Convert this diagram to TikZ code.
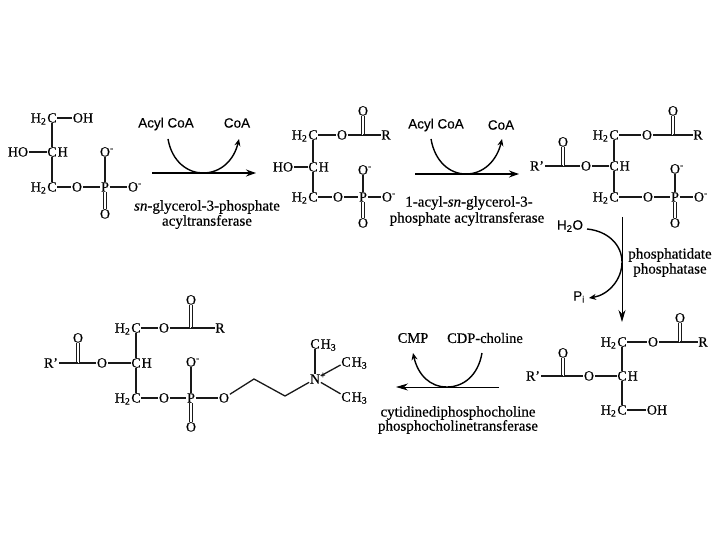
\documentclass[tikz,border=0pt]{standalone}
\usepackage{fontspec}
\setmainfont[FakeBold=0.45,BoldFont={Liberation Serif},BoldFeatures={FakeBold=0.45}]{Liberation Serif}
\newfontfamily\lblsans[FakeBold=0.3]{Liberation Sans}
\usetikzlibrary{arrows.meta}
\tikzset{
  atom/.style={inner sep=0.6pt,font=\fontsize{14}{14}\selectfont,text height=9pt,text depth=0pt},
  bond/.style={line width=1.3pt,black!90},
  dbl/.style={line width=1.1pt,double,double distance=2.2pt,black!90},
  rxn/.style={line width=1.3pt,-{Stealth[length=10pt,width=7pt]}},
  rxnthin/.style={line width=0.9pt,-{Stealth[length=12pt,width=7pt]}},
  cofline/.style={line width=1.4pt},
  cof/.style={line width=1.4pt,-{Stealth[length=7pt,width=6pt]}},
  enz/.style={font=\fontsize{15}{15}\selectfont,inner sep=0pt},
  sans/.style={font=\lblsans\fontsize{13.5}{13.5}\selectfont,inner sep=0pt},
  ser/.style={font=\fontsize{14.5}{14.5}\selectfont,inner sep=0pt},
}
\newcommand{\mO}{O\rlap{\textsuperscript{-}}}
\begin{document}
\begin{tikzpicture}[x=1pt,y=-1pt]
\useasboundingbox (0,0) rectangle (720,540);
% ---- structure 1
\begin{scope}[name prefix=a-]
\node[atom] (c1) at (52,118) {C};
\node[atom,anchor=east,inner xsep=0pt] (h1) at (c1.west) {H\textsubscript{2}};
\node[atom] (oh) at (83,118) {OH};
\node[atom] (c2) at (52,152) {C};
\node[atom,anchor=west,inner xsep=0pt] (h2) at (c2.east) {H};
\node[atom] (ho) at (18,152) {HO};
\node[atom] (c3) at (52,187) {C};
\node[atom,anchor=east,inner xsep=0pt] (h3) at (c3.west) {H\textsubscript{2}};
\node[atom] (o1) at (77,187) {O};
\node[atom] (p) at (105,187) {P};
\node[atom] (o2) at (133,187) {\mO};
\node[atom] (o3) at (105,152) {\mO};
\node[atom] (o4) at (105,214) {O};
\draw[bond] (c1) -- (oh);
\draw[bond] (c1) -- (c2);
\draw[bond] (ho) -- (c2);
\draw[bond] (c2) -- (c3);
\draw[bond] (c3) -- (o1);
\draw[bond] (o1) -- (p);
\draw[bond] (p) -- (o2);
\draw[bond] (p) -- (o3);
\draw[dbl] (p) -- (o4);
\end{scope}
% ---- structure 2
\begin{scope}[name prefix=b-]
\node[atom] (c1) at (313,135) {C};
\node[atom,anchor=east,inner xsep=0pt] (h1) at (c1.west) {H\textsubscript{2}};
\node[atom] (o5) at (342,135) {O};
\coordinate (j) at (363,135);
\node[atom] (oc) at (363,111) {O};
\node[atom] (r) at (386,135) {R};
\node[atom] (c2) at (313,167) {C};
\node[atom,anchor=west,inner xsep=0pt] (h2) at (c2.east) {H};
\node[atom] (ho) at (283,167) {HO};
\node[atom] (c3) at (313,197) {C};
\node[atom,anchor=east,inner xsep=0pt] (h3) at (c3.west) {H\textsubscript{2}};
\node[atom] (o1) at (338,197) {O};
\node[atom] (p) at (363,197) {P};
\node[atom] (o2) at (387,197) {\mO};
\node[atom] (o3) at (363,170) {\mO};
\node[atom] (o4) at (363,223) {O};
\draw[bond] (c1) -- (o5);
\draw[bond] (o5) -- (j);
\draw[dbl] (j) -- (oc);
\draw[bond] (j) -- (r);
\draw[bond] (c1) -- (c2);
\draw[bond] (ho) -- (c2);
\draw[bond] (c2) -- (c3);
\draw[bond] (c3) -- (o1);
\draw[bond] (o1) -- (p);
\draw[bond] (p) -- (o2);
\draw[bond] (p) -- (o3);
\draw[dbl] (p) -- (o4);
\end{scope}
% ---- structure 3
\begin{scope}[name prefix=c-]
\node[atom] (c1) at (614,135) {C};
\node[atom,anchor=east,inner xsep=0pt] (h1) at (c1.west) {H\textsubscript{2}};
\node[atom] (o5) at (647,135) {O};
\coordinate (j) at (673,135);
\node[atom] (oc) at (673,111) {O};
\node[atom] (r) at (698,135) {R};
\node[atom] (c2) at (614,166) {C};
\node[atom,anchor=west,inner xsep=0pt] (h2) at (c2.east) {H};
\node[atom] (o6) at (586,166) {O};
\coordinate (k) at (563,166);
\node[atom] (oc2) at (563,142) {O};
\node[atom] (rp) at (537,166) {R'};
\node[atom] (c3) at (614,197) {C};
\node[atom,anchor=east,inner xsep=0pt] (h3) at (c3.west) {H\textsubscript{2}};
\node[atom] (o1) at (648,197) {O};
\node[atom] (p) at (675,197) {P};
\node[atom] (o2) at (699,197) {\mO};
\node[atom] (o3) at (675,169) {\mO};
\node[atom] (o4) at (675,223) {O};
\draw[bond] (c1) -- (o5);
\draw[bond] (o5) -- (j);
\draw[dbl] (j) -- (oc);
\draw[bond] (j) -- (r);
\draw[bond] (c1) -- (c2);
\draw[bond] (c2) -- (o6);
\draw[bond] (o6) -- (k);
\draw[dbl] (k) -- (oc2);
\draw[bond] (k) -- (rp);
\draw[bond] (c2) -- (c3);
\draw[bond] (c3) -- (o1);
\draw[bond] (o1) -- (p);
\draw[bond] (p) -- (o2);
\draw[bond] (p) -- (o3);
\draw[dbl] (p) -- (o4);
\end{scope}
% ---- structure 4
\begin{scope}[name prefix=d-]
\node[atom] (c1) at (622,342) {C};
\node[atom,anchor=east,inner xsep=0pt] (h1) at (c1.west) {H\textsubscript{2}};
\node[atom] (o5) at (653,342) {O};
\coordinate (j) at (680,342);
\node[atom] (oc) at (680,318) {O};
\node[atom] (r) at (703,342) {R};
\node[atom] (c2) at (622,376) {C};
\node[atom,anchor=west,inner xsep=0pt] (h2) at (c2.east) {H};
\node[atom] (o6) at (589,376) {O};
\coordinate (k) at (563,376);
\node[atom] (oc2) at (563,353) {O};
\node[atom] (rp) at (533,376) {R'};
\node[atom] (c3) at (622,410) {C};
\node[atom,anchor=east,inner xsep=0pt] (h3) at (c3.west) {H\textsubscript{2}};
\node[atom] (oh) at (657,410) {OH};
\draw[bond] (c1) -- (o5);
\draw[bond] (o5) -- (j);
\draw[dbl] (j) -- (oc);
\draw[bond] (j) -- (r);
\draw[bond] (c1) -- (c2);
\draw[bond] (c2) -- (o6);
\draw[bond] (o6) -- (k);
\draw[dbl] (k) -- (oc2);
\draw[bond] (k) -- (rp);
\draw[bond] (c2) -- (c3);
\draw[bond] (c3) -- (oh);
\end{scope}
% ---- structure 5
\begin{scope}[name prefix=e-]
\node[atom] (c1) at (136,328) {C};
\node[atom,anchor=east,inner xsep=0pt] (h1) at (c1.west) {H\textsubscript{2}};
\node[atom] (o5) at (164,328) {O};
\coordinate (j) at (191,328);
\node[atom] (oc) at (191,300) {O};
\node[atom] (r) at (220,328) {R};
\node[atom] (c2) at (136,363) {C};
\node[atom,anchor=west,inner xsep=0pt] (h2) at (c2.east) {H};
\node[atom] (o6) at (102,363) {O};
\coordinate (k) at (78,363);
\node[atom] (oc2) at (78,338) {O};
\node[atom] (rp) at (51,363) {R'};
\node[atom] (c3) at (136,398) {C};
\node[atom,anchor=east,inner xsep=0pt] (h3) at (c3.west) {H\textsubscript{2}};
\node[atom] (o1) at (164,398) {O};
\node[atom] (p) at (191,398) {P};
\node[atom] (o2) at (224,398) {O};
\node[atom] (o3) at (191,362) {\mO};
\node[atom] (o4) at (191,427) {O};
\coordinate (ch1) at (254,379);
\coordinate (ch2) at (285,396);
\node[atom] (n) at (315,379) {N\rlap{\textsuperscript{+}}};
\node[atom] (m1) at (315,344) {C};
\node[atom,anchor=west,inner xsep=0pt] (m1h) at (m1.east) {H\textsubscript{3}};
\node[atom] (m2) at (346,362) {C};
\node[atom,anchor=west,inner xsep=0pt] (m2h) at (m2.east) {H\textsubscript{3}};
\node[atom] (m3) at (346,397) {C};
\node[atom,anchor=west,inner xsep=0pt] (m3h) at (m3.east) {H\textsubscript{3}};
\draw[bond] (c1) -- (o5);
\draw[bond] (o5) -- (j);
\draw[dbl] (j) -- (oc);
\draw[bond] (j) -- (r);
\draw[bond] (c1) -- (c2);
\draw[bond] (c2) -- (o6);
\draw[bond] (o6) -- (k);
\draw[dbl] (k) -- (oc2);
\draw[bond] (k) -- (rp);
\draw[bond] (c2) -- (c3);
\draw[bond] (c3) -- (o1);
\draw[bond] (o1) -- (p);
\draw[bond] (p) -- (o2);
\draw[bond] (p) -- (o3);
\draw[dbl] (p) -- (o4);
\draw[bond] (o2) -- (ch1) -- (ch2) -- (n);
\draw[bond] (n) -- (m1);
\draw[bond] (n) -- (m2);
\draw[bond] (n) -- (m3);
\end{scope}
% ---- reaction 1
\coordinate (r1a) at (152,173);
\coordinate (r1b) at (256,173);
\coordinate (r1s) at (168,139);
\coordinate (r1m) at (203,173);
\coordinate (r1e) at (239,139);
\draw[rxn] (r1a) -- (r1b);
\draw[cofline] (r1s) .. controls (172,162) and (188,173) .. (r1m);
\draw[cof] (r1m) .. controls (221,173) and (234,160) .. (r1e);
\node[sans] (l1) at (166,124) {Acyl CoA};
\node[sans] (l2) at (237,123) {CoA};
\node[enz] (l3) at (207,207) {\textit{sn}-glycerol-3-phosphate};
\node[enz] (l4) at (207,222) {acyltransferase};
% ---- reaction 2
\coordinate (r2a) at (415,174);
\coordinate (r2b) at (519,174);
\coordinate (r2s) at (431,139);
\coordinate (r2m) at (466,174);
\coordinate (r2e) at (502,139);
\draw[rxn] (r2a) -- (r2b);
\draw[cofline] (r2s) .. controls (435,162) and (450,174) .. (r2m);
\draw[cof] (r2m) .. controls (484,174) and (497,160) .. (r2e);
\node[sans] (l5) at (436,125) {Acyl CoA};
\node[sans] (l6) at (501,125) {CoA};
\node[enz] (l7) at (469,203) {1-acyl-\textit{sn}-glycerol-3-};
\node[enz] (l8) at (467,219) {phosphate acyltransferase};
% ---- reaction 3
\coordinate (r3a) at (622,217);
\coordinate (r3b) at (622,322);
\coordinate (r3s) at (587,229);
\coordinate (r3m) at (622,262);
\coordinate (r3e) at (589,298);
\draw[rxnthin] (r3a) -- (r3b);
\draw[cofline] (r3s) .. controls (608,231) and (622,245) .. (r3m);
\draw[cof] (r3m) .. controls (622,280) and (608,295) .. (r3e);
\node[sans] (l9) at (570,226) {H\textsubscript{2}O};
\node[sans] (l10) at (579,297) {P\textsubscript{i}};
\node[enz] (l11) at (670,255) {phosphatidate};
\node[enz] (l12) at (670,270) {phosphatase};
% ---- reaction 4
\coordinate (r4a) at (499,387);
\coordinate (r4b) at (396,387);
\coordinate (r4s) at (482,353);
\coordinate (r4m) at (447,387);
\coordinate (r4e) at (413,353);
\draw[rxnthin] (r4a) -- (r4b);
\draw[cofline] (r4s) .. controls (478,376) and (463,387) .. (r4m);
\draw[cof] (r4m) .. controls (430,387) and (418,375) .. (r4e);
\node[ser] (l13) at (413,338) {CMP};
\node[ser] (l14) at (485,338) {CDP-choline};
\node[enz] (l15) at (458,413) {cytidinediphosphocholine};
\node[enz] (l16) at (458,427) {phosphocholinetransferase};
\end{tikzpicture}
\end{document}
